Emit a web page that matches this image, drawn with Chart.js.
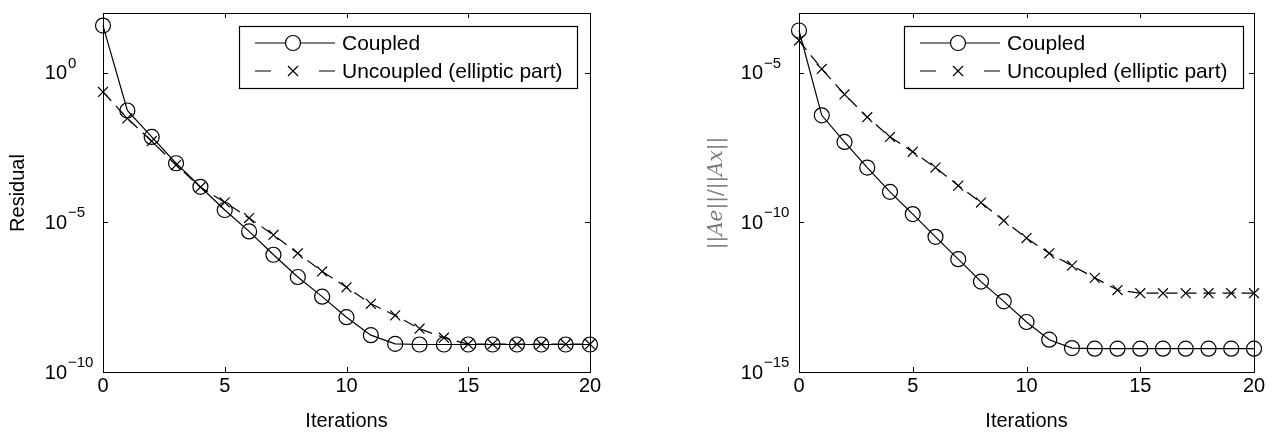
<!DOCTYPE html>
<html>
<head>
<meta charset="utf-8">
<script src="https://cdn.jsdelivr.net/npm/chart.js@4"></script>
<style>
  html, body { margin: 0; padding: 0; background: #fff; }
  #wrap { position: relative; width: 1276px; height: 437px; }
  .panel { position: absolute; top: 0; width: 638px; height: 437px; }
</style>
</head>
<body>
<div id="wrap">
  <div class="panel" style="left:0"><canvas id="left" width="638" height="437"></canvas></div>
  <div class="panel" style="left:638px"><canvas id="right" width="638" height="437"></canvas></div>
</div>
<script>
const iterations = [0, 1, 2, 3, 4, 5, 6, 7, 8, 9, 10, 11, 12, 13, 14, 15, 16, 17, 18, 19, 20];
const xTicks = [0, 5, 10, 15, 20];

// left panel: residual
const residualCoupled = [3.8e1, 5.5e-2, 7.2e-3, 9.5e-4, 1.55e-4, 2.6e-5, 5.0e-6, 8.3e-7, 1.5e-7, 3.3e-8,
  6.8e-9, 1.7e-9, 8.7e-10, 8.3e-10, 8.3e-10, 8.3e-10, 8.3e-10, 8.3e-10, 8.3e-10, 8.3e-10, 8.3e-10];
const residualUncoupled = [2.3e-1, 3.0e-2, 5.2e-3, 8.3e-4, 1.5e-4, 4.7e-5, 1.4e-5, 3.8e-6, 9.3e-7, 2.3e-7,
  6.8e-8, 1.9e-8, 7.8e-9, 2.8e-9, 1.4e-9, 8.5e-10, 8.5e-10, 8.5e-10, 8.5e-10, 8.5e-10, 8.5e-10];
const residualDecades = [0, -5, -10];

// right panel: ||Ae||/||Ax||
const errorCoupled = [2.6e-4, 3.8e-7, 4.9e-8, 6.8e-9, 1.05e-9, 1.9e-10, 3.3e-11, 5.9e-12, 1.05e-12, 2.3e-13,
  4.7e-14, 1.2e-14, 6.3e-15, 6.0e-15, 6.0e-15, 6.0e-15, 6.0e-15, 6.0e-15, 6.0e-15, 6.0e-15, 6.0e-15];
const errorUncoupled = [1.2e-4, 1.35e-5, 1.9e-6, 3.3e-7, 7.2e-8, 2.3e-8, 6.8e-9, 1.7e-9, 4.6e-10, 1.15e-10,
  3.0e-11, 9.3e-12, 3.6e-12, 1.4e-12, 5.5e-13, 4.3e-13, 4.3e-13, 4.3e-13, 4.3e-13, 4.3e-13, 4.3e-13];
const errorDecades = [-5, -10, -15];

const legendLabels = ["Coupled", "Uncoupled (elliptic part)"];

const SANS = "'Liberation Sans', Arial, sans-serif";
const SERIF = "'DejaVu Serif', serif";

function points(values) {
  return iterations.map((it, i) => ({ x: it, y: values[i] }));
}

function drawCross(ctx, cx, cy, r) {
  ctx.moveTo(cx - r, cy - r); ctx.lineTo(cx + r, cy + r);
  ctx.moveTo(cx - r, cy + r); ctx.lineTo(cx + r, cy - r);
}

const matlabFrame = {
  id: "matlabFrame",
  afterDraw(chart, args, opts) {
    const { ctx, chartArea: a, scales: { x, y } } = chart;
    ctx.save();
    ctx.strokeStyle = "#000";
    ctx.fillStyle = "#000";
    ctx.lineWidth = 1;
    ctx.strokeRect(a.left + 0.5, a.top + 0.5, a.right - a.left, a.bottom - a.top);

    // inward ticks
    ctx.beginPath();
    xTicks.forEach((v) => {
      const px = Math.round(x.getPixelForValue(v)) + 0.5;
      ctx.moveTo(px, a.bottom); ctx.lineTo(px, a.bottom - 5);
      ctx.moveTo(px, a.top); ctx.lineTo(px, a.top + 5);
    });
    opts.decades.forEach((e) => {
      const py = Math.round(y.getPixelForValue(Math.pow(10, e))) + 0.5;
      ctx.moveTo(a.left, py); ctx.lineTo(a.left + 5, py);
      ctx.moveTo(a.right, py); ctx.lineTo(a.right - 5, py);
    });
    ctx.stroke();

    // y tick labels 10^e
    opts.decades.forEach((e) => {
      const py = y.getPixelForValue(Math.pow(10, e));
      ctx.font = `20px ${SANS}`;
      ctx.textAlign = "right";
      ctx.textBaseline = "middle";
      ctx.fillText("10", a.left - 36, py + 1);
      ctx.font = `15px ${SANS}`;
      ctx.textAlign = "left";
      ctx.textBaseline = "alphabetic";
      ctx.fillText(e < 0 ? "\u2212" + Math.abs(e) : String(e), a.left - 35, py - 5);
    });

    // x title
    ctx.font = `20px ${SANS}`;
    ctx.textAlign = "center";
    ctx.textBaseline = "middle";
    ctx.fillText("Iterations", x.getPixelForValue(10), 421);

    // y title
    ctx.save();
    ctx.translate(opts.yTitleX, 193);
    ctx.rotate(-Math.PI / 2);
    if (opts.yTitle === "residual") {
      ctx.font = `20px ${SANS}`;
      ctx.textAlign = "center";
      ctx.fillText("Residual", 0, 0);
    } else {
      const parts = [["||", false], ["Ae", true], ["||/||", false], ["Ax", true], ["||", false]];
      const fontFor = (it) => `${it ? "italic " : ""}20px ${SERIF}`;
      let total = 0;
      parts.forEach(([t, it]) => { ctx.font = fontFor(it); total += ctx.measureText(t).width; });
      let cx = -total / 2;
      ctx.fillStyle = "#7a7a7a";
      ctx.textAlign = "left";
      parts.forEach(([t, it]) => {
        ctx.font = fontFor(it);
        ctx.fillText(t, cx, 0);
        cx += ctx.measureText(t).width;
      });
    }
    ctx.restore();

    // legend
    const L = opts.legend;
    ctx.fillStyle = "#fff";
    ctx.fillRect(L.x, L.y, L.w, L.h);
    ctx.strokeStyle = "#000";
    ctx.lineWidth = 1.2;
    ctx.strokeRect(L.x + 0.5, L.y + 0.5, L.w, L.h);
    const r1 = L.y + 17, r2 = L.y + 45;
    const mx = L.x + 54;
    ctx.beginPath();
    ctx.moveTo(L.x + 16, r1); ctx.lineTo(mx - 7.5, r1);
    ctx.moveTo(mx + 7.5, r1); ctx.lineTo(L.x + 96, r1);
    ctx.moveTo(L.x + 16, r2); ctx.lineTo(L.x + 32, r2);
    ctx.moveTo(L.x + 80, r2); ctx.lineTo(L.x + 96, r2);
    drawCross(ctx, mx, r2, 5);
    ctx.stroke();
    ctx.beginPath();
    ctx.arc(mx, r1, 7.5, 0, Math.PI * 2);
    ctx.stroke();
    ctx.fillStyle = "#000";
    ctx.font = `21px ${SANS}`;
    ctx.textAlign = "left";
    ctx.textBaseline = "middle";
    ctx.fillText(legendLabels[0], L.x + 103, r1 + 1);
    ctx.fillText(legendLabels[1], L.x + 103, r2 + 1);
    ctx.restore();
  }
};

function makeChart(canvasId, coupled, uncoupled, yMin, yMax, axisWidth, padRight, frameOpts) {
  new Chart(document.getElementById(canvasId), {
    type: "line",
    data: {
      datasets: [
        {
          label: legendLabels[0],
          data: points(coupled),
          borderColor: "#000",
          borderWidth: 1.2,
          pointStyle: "circle",
          pointRadius: 7.5,
          pointBackgroundColor: "rgba(0,0,0,0)",
          pointBorderColor: "#000",
          pointBorderWidth: 1.2,
          tension: 0,
          clip: false,
        },
        {
          label: legendLabels[1],
          data: points(uncoupled),
          borderColor: "#000",
          borderWidth: 1.2,
          borderDash: [12, 7],
          pointStyle: "crossRot",
          pointRadius: 7,
          pointBorderColor: "#000",
          pointBorderWidth: 1.2,
          tension: 0,
          clip: false,
        },
      ],
    },
    options: {
      responsive: false,
      animation: false,
      events: [],
      layout: { padding: { top: 13, right: padRight, left: 0, bottom: 0 } },
      plugins: { legend: { display: false }, tooltip: { enabled: false }, matlabFrame: frameOpts },
      scales: {
        x: {
          type: "linear",
          min: 0,
          max: 20,
          afterBuildTicks: (s) => { s.ticks = xTicks.map((v) => ({ value: v })); },
          afterFit: (s) => { s.height = 65; },
          grid: { display: false, drawTicks: false },
          border: { display: false },
          ticks: { font: { family: SANS, size: 20 }, color: "#000", padding: 2, maxRotation: 0 },
        },
        y: {
          type: "logarithmic",
          min: yMin,
          max: yMax,
          afterFit: (s) => { s.width = axisWidth; },
          grid: { display: false, drawTicks: false },
          border: { display: false },
          ticks: { display: false },
        },
      },
    },
    plugins: [matlabFrame],
  });
}

makeChart("left", residualCoupled, residualUncoupled, 1e-10, 1e2, 103, 48, {
  decades: residualDecades, yTitle: "residual", yTitleX: 18,
  legend: { x: 239, y: 26, w: 338, h: 62 },
});
makeChart("right", errorCoupled, errorUncoupled, 1e-15, 1e-3, 161, 22, {
  decades: errorDecades, yTitle: "error", yTitleX: 79,
  legend: { x: 266, y: 26, w: 339, h: 62 },
});
</script>
</body>
</html>
